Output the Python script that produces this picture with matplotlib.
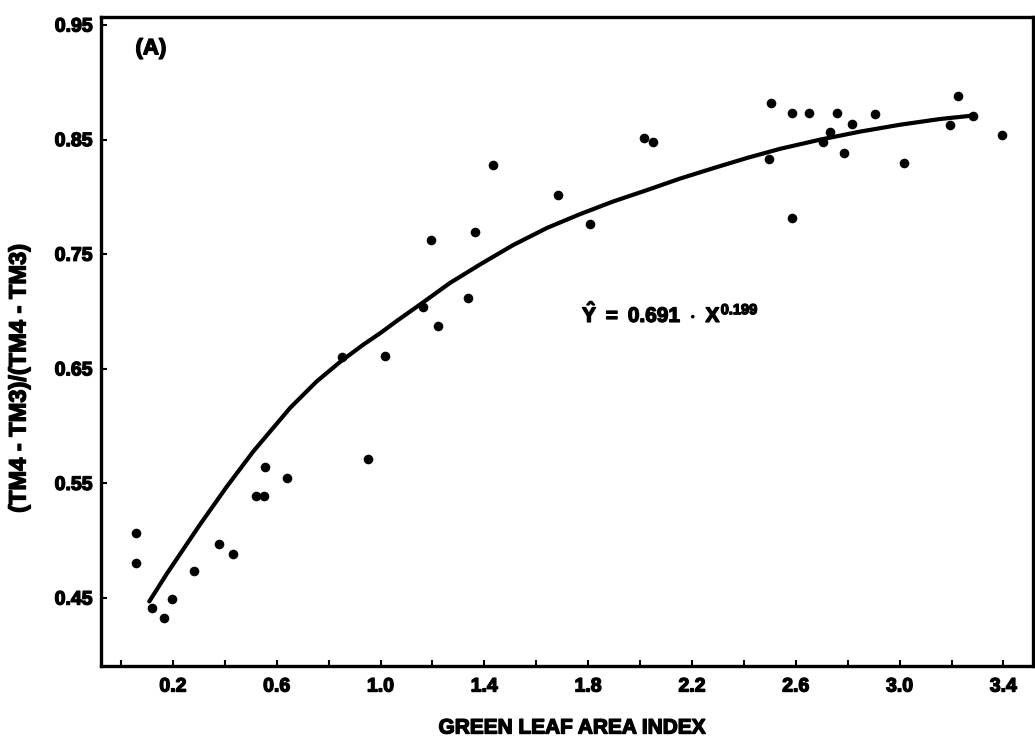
import matplotlib
matplotlib.use("Agg")
import matplotlib.pyplot as plt
import matplotlib.patheffects as pe

# Observed data points (green leaf area index, NDVI-type ratio)
lai = [0.058, 0.058, 0.119, 0.166, 0.197, 0.281, 0.378, 0.432, 0.520, 0.551,
       0.555, 0.640, 0.852, 0.952, 1.017, 1.164, 1.195, 1.222, 1.337, 1.364,
       1.434, 1.684, 1.807, 2.015, 2.050, 2.505, 2.497, 2.586, 2.586, 2.651,
       2.759, 2.817, 2.906, 2.733, 2.705, 2.786, 3.017, 3.225, 3.195, 3.283,
       3.395]
ratio = [0.507, 0.481, 0.441, 0.433, 0.449, 0.474, 0.497, 0.488, 0.539, 0.539,
         0.564, 0.555, 0.660, 0.571, 0.661, 0.704, 0.762, 0.687, 0.712, 0.769,
         0.828, 0.802, 0.776, 0.851, 0.848, 0.882, 0.833, 0.782, 0.873, 0.873,
         0.873, 0.864, 0.872, 0.857, 0.848, 0.838, 0.830, 0.888, 0.863, 0.871,
         0.854]

# Fitted curve
curve_x = [0.109, 0.176, 0.304, 0.407, 0.510, 0.652, 0.754, 0.844, 0.933,
           0.998, 1.064, 1.164, 1.268, 1.383, 1.511, 1.642, 1.769, 1.896,
           2.027, 2.154, 2.281, 2.412, 2.540, 2.694, 2.848, 3.002, 3.156,
           3.283]
curve_y = [0.447, 0.471, 0.514, 0.547, 0.578, 0.616, 0.639, 0.656, 0.671,
           0.681, 0.692, 0.708, 0.725, 0.741, 0.758, 0.773, 0.785, 0.796,
           0.806, 0.816, 0.825, 0.834, 0.842, 0.850, 0.857, 0.863, 0.868,
           0.871]

x_ticks = [0.0, 0.2, 0.4, 0.6, 0.8, 1.0, 1.2, 1.4, 1.6, 1.8, 2.0, 2.2, 2.4,
           2.6, 2.8, 3.0, 3.2, 3.4]
x_labeled = ["", "0.2", "", "0.6", "", "1.0", "", "1.4", "", "1.8", "", "2.2",
             "", "2.6", "", "3.0", "", "3.4"]
y_ticks = [0.45, 0.55, 0.65, 0.75, 0.85, 0.95]
y_labels = ["0.45", "0.55", "0.65", "0.75", "0.85", "0.95"]

FAM = ['Liberation Sans', 'DejaVu Sans']
plt.rcParams['font.family'] = FAM
plt.rcParams['font.weight'] = 'bold'
plt.rcParams['mathtext.fontset'] = 'custom'
plt.rcParams['mathtext.rm'] = 'Liberation Sans:bold'
plt.rcParams['mathtext.it'] = 'Liberation Sans:bold'
plt.rcParams['mathtext.bf'] = 'Liberation Sans:bold'

heavy = [pe.withStroke(linewidth=1.0, foreground='black')]

fig = plt.figure(figsize=(10.35, 7.42), dpi=100)
ax = fig.add_axes([101/1035, 1 - 666/742, (1033 - 101)/1035, (666 - 17)/742])

ax.plot(curve_x, curve_y, color='black', lw=3.0, solid_capstyle='round',
        solid_joinstyle='round')
ax.scatter(lai, ratio, s=48, color='black', zorder=3, linewidths=0)

ax.set_xlim(-0.077, 3.514)
ax.set_ylim(0.3907, 0.957)

ax.set_xticks(x_ticks)
ax.set_xticklabels(x_labeled)
ax.set_yticks(y_ticks)
ax.set_yticklabels(y_labels)

ax.tick_params(axis='both', direction='in', length=4, width=1.5,
               labelsize=14)
ax.tick_params(axis='x', pad=9)
ax.tick_params(axis='y', pad=6)
for lab in ax.get_xticklabels() + ax.get_yticklabels():
    lab.set_fontweight('bold')
    lab.set_path_effects(heavy)

for sp in ax.spines.values():
    sp.set_linewidth(2.4)
    sp.set_color('black')

ax.text(0.037, 0.951, "(A)", transform=ax.transAxes, fontsize=16,
        fontweight='bold', ha='left', va='center', path_effects=heavy)

fig.text(582/1035, 1 - 314/742, r"$\hat{Y}\ =\ 0.691\ \cdot\ X^{0.199}$",
         fontsize=15, ha='left', va='center', path_effects=heavy)

fig.text(572/1035, 1 - 728/742, "GREEN LEAF AREA INDEX", fontsize=15,
         fontweight='bold', ha='center', va='center', path_effects=heavy)
fig.text(19/1035, 1 - 378/742, "(TM4 - TM3)/(TM4 - TM3)", fontsize=17,
         fontweight='bold', ha='center', va='center', rotation=90,
         path_effects=heavy)

fig.savefig("out.png", dpi=100)
